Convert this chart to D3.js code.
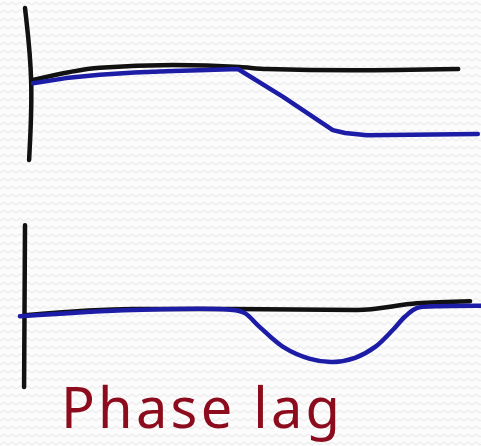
<!DOCTYPE html>
<html>
<head>
<meta charset="utf-8">
<script src="https://cdn.jsdelivr.net/npm/d3@7"></script>
<style>
  body { margin: 0; background: #fdfdfd; }
  svg { display: block; }
</style>
</head>
<body>
<div class="viz"></div>
<script>
const width = 481;
const height = 446;

// top panel: steady signal (black) and response that drops to a new level (blue)
const topAxisT = [0, 1.8, 0.9];
const topAxisV = [1.94, 0.83, -0.4];
const topInputT = [1.75, 16.4, 32.5, 47.1, 53.1, 71.9, 95];
const topInputV = [0.83, 1.02, 1.06, 1.03, 1.0, 0.98, 1.0];
const topOutputT = [1.75, 9, 16.4, 24, 32.5, 40, 46.7, 56.6, 67.5, 70.2, 75, 99.3];
const topOutputV = [0.78, 0.86, 0.91, 0.945, 0.97, 0.985, 1.0, 0.57, 0.06, 0.015, -0.02, 0];

// bottom panel: baseline (black) and lagging dip (blue)
const botAxisT = [0, -0.2];
const botAxisV = [1.63, -1.48];
const botInputT = [0, 23.7, 45.6, 72.8, 86, 97.6];
const botInputV = [-0.1, 0.02, 0.02, 0, 0.13, 0.17];
const botOutputT = [-1.1, 23.7, 45.6, 48.2, 51.5, 56.6, 62.5, 67.5, 72.4, 76.8, 80.7, 83.3, 86, 90, 100];
const botOutputV = [-0.12, 0, 0, -0.06, -0.33, -0.71, -0.94, -1, -0.92, -0.71, -0.38, -0.13, 0.04, 0.07, 0.08];

const label = "Phase lag";

const svg = d3.select(".viz").append("svg").attr("width", width).attr("height", height);

// faint zigzag paper texture
const pat = svg.append("defs").append("pattern")
  .attr("id", "zig").attr("width", 8).attr("height", 8)
  .attr("patternUnits", "userSpaceOnUse");
pat.append("path").attr("d", "M0,5 L4,2 L8,5")
  .attr("fill", "none").attr("stroke", "#ececec").attr("stroke-width", 1.2);
svg.append("rect").attr("width", width).attr("height", height).attr("fill", "#fcfcfc");
svg.append("rect").attr("width", width).attr("height", height).attr("fill", "url(#zig)");

const x = d3.scaleLinear().domain([0, 100]).range([25, 481]);
const yTop = d3.scaleLinear().domain([0, 1]).range([134, 69]);
const yBot = d3.scaleLinear().domain([-1, 0]).range([362, 310]);

function drawLine(ts, vs, y, color, curve) {
  const pts = ts.map((t, i) => [t, vs[i]]);
  const line = d3.line()
    .x((d) => x(d[0]))
    .y((d) => y(d[1]))
    .curve(curve);
  svg.append("path")
    .datum(pts)
    .attr("d", line)
    .attr("fill", "none")
    .attr("stroke", color)
    .attr("stroke-width", 4.5)
    .attr("stroke-linecap", "round")
    .attr("stroke-linejoin", "round");
}

const black = "#111111";
const blue = "#1c1ca6";

drawLine(topAxisT, topAxisV, yTop, black, d3.curveBasis);
drawLine(topInputT, topInputV, yTop, black, d3.curveMonotoneX);
drawLine(topOutputT, topOutputV, yTop, blue, d3.curveLinear);

drawLine(botAxisT, botAxisV, yBot, black, d3.curveLinear);
drawLine(botInputT, botInputV, yBot, black, d3.curveMonotoneX);
drawLine(botOutputT, botOutputV, yBot, blue, d3.curveCatmullRom);

svg.append("text")
  .attr("x", 61)
  .attr("y", 428)
  .attr("textLength", 279)
  .attr("lengthAdjust", "spacing")
  .attr("fill", "#8c0b1c")
  .attr("font-family", "'Noto Sans', sans-serif")
  .attr("font-size", 56)
  .text(label);
</script>
</body>
</html>
